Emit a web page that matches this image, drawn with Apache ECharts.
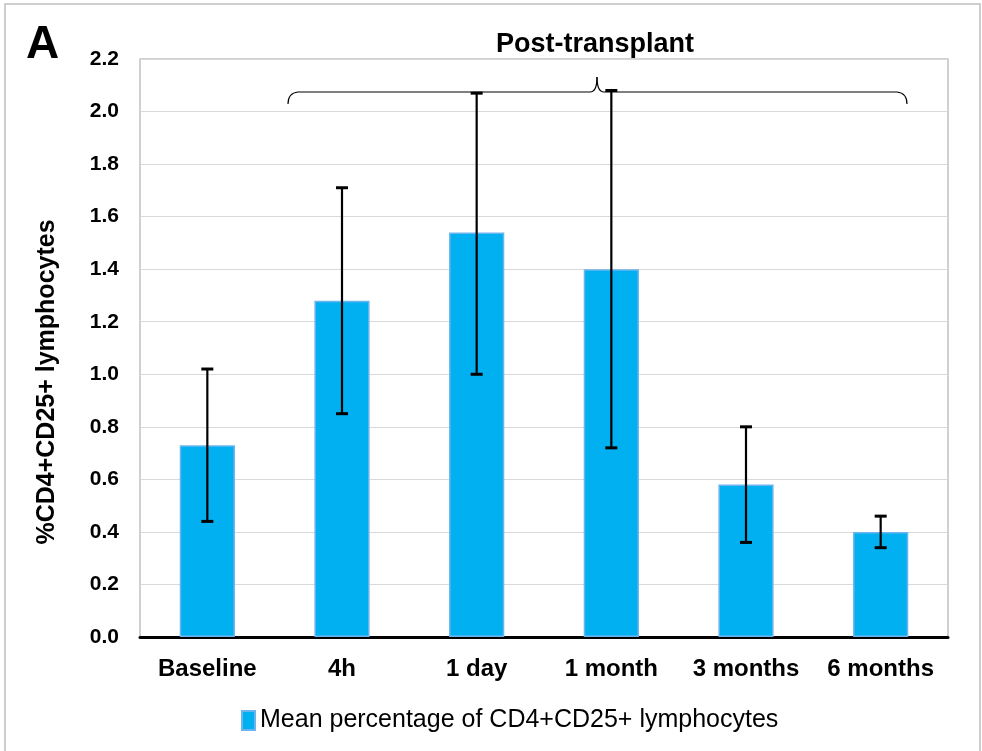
<!DOCTYPE html>
<html><head><meta charset="utf-8">
<script src="https://cdn.jsdelivr.net/npm/echarts@6/dist/echarts.min.js"></script>
<style>html,body{margin:0;padding:0;background:#fff}#c{width:982px;height:751px}</style>
</head><body><div id="c"></div>
<script>
const categories = ['Baseline', '4h', '1 day', '1 month', '3 months', '6 months'];
const means = [0.73, 1.28, 1.54, 1.40, 0.58, 0.40];
const errLow = [0.44, 0.85, 1.00, 0.72, 0.36, 0.34];
const errHigh = [1.02, 1.71, 2.07, 2.08, 0.80, 0.46];
const yTicks = ['0.0','0.2','0.4','0.6','0.8','1.0','1.2','1.4','1.6','1.8','2.0','2.2'];
const seriesName = 'Mean percentage of CD4+CD25+ lymphocytes';
const yAxisTitle = '%CD4+CD25+ lymphocytes';

const chart = echarts.init(document.getElementById('c'));
const F = 'Liberation Sans, Arial, sans-serif';
const braceStyle = { fill: 'none', stroke: '#000', lineWidth: 1.2 };
chart.setOption({
  animation: false,
  textStyle: { fontFamily: F },
  grid: { left: 140, right: 34, top: 59, bottom: 114, show: true, borderColor: '#c0c0c0', borderWidth: 1.5 },
  legend: {
    top: 703, left: 236, itemWidth: 13, itemHeight: 19, itemGap: 4,
    textStyle: { fontFamily: F, fontSize: 25, color: '#000' },
    data: [{ name: seriesName, icon: 'rect' }]
  },
  xAxis: {
    type: 'category', data: categories,
    axisLine: { lineStyle: { color: '#000', width: 3 } },
    axisTick: { show: false },
    axisLabel: { interval: 0, hideOverlap: false, fontFamily: F, fontSize: 24, fontWeight: 'bold', color: '#000', margin: 20 }
  },
  yAxis: {
    type: 'value', min: 0, max: 2.2, interval: 0.2,
    axisLine: { show: false }, axisTick: { show: false },
    axisLabel: { fontFamily: F, fontSize: 21, fontWeight: 'bold', color: '#000', margin: 21,
      formatter: (v) => yTicks[Math.round(v / 0.2)] },
    splitLine: { lineStyle: { color: '#d9d9d9', width: 1 } }
  },
  series: [
    {
      name: seriesName, type: 'bar', data: means, barWidth: '41%',
      itemStyle: { color: '#00B0F0', borderColor: '#6CB4EE', borderWidth: 1.5 }
    },
    {
      type: 'custom', silent: true,
      data: categories.map((c, i) => [i, errLow[i], errHigh[i]]),
      renderItem: function (params, api) {
        const lo = api.coord([api.value(0), api.value(1)]);
        const hi = api.coord([api.value(0), api.value(2)]);
        const w = 6;
        const st = { stroke: '#000', lineWidth: 2.2 };
        return { type: 'group', children: [
          { type: 'line', shape: { x1: lo[0], y1: lo[1], x2: hi[0], y2: hi[1] }, style: st },
          { type: 'line', shape: { x1: lo[0] - w, y1: lo[1], x2: lo[0] + w, y2: lo[1] }, style: { stroke: '#000', lineWidth: 3 } },
          { type: 'line', shape: { x1: hi[0] - w, y1: hi[1], x2: hi[0] + w, y2: hi[1] }, style: { stroke: '#000', lineWidth: 3 } }
        ]};
      },
      z: 5
    }
  ],
  graphic: [
    { type: 'rect', shape: { x: 5, y: 4, width: 975, height: 760 }, style: { fill: 'none', stroke: '#bfbfbf', lineWidth: 1.5 }, silent: true },
    { type: 'text', x: 26, y: 22, style: { text: 'A', font: 'bold 46px ' + F, fill: '#000' } },
    { type: 'text', x: 595, y: 45, style: { text: 'Post-transplant', font: 'bold 27px ' + F, fill: '#000', align: 'center', verticalAlign: 'middle' } },
    { type: 'text', x: 47, y: 382, rotation: Math.PI / 2, style: { text: yAxisTitle, font: 'bold 25px ' + F, fill: '#000', align: 'center', verticalAlign: 'middle' } },
    { type: 'bezierCurve', shape: { x1: 288, y1: 104, x2: 298, y2: 92, cpx1: 288, cpy1: 93 }, style: braceStyle },
    { type: 'line', shape: { x1: 298, y1: 92, x2: 590, y2: 92 }, style: braceStyle },
    { type: 'bezierCurve', shape: { x1: 590, y1: 92, x2: 597, y2: 77, cpx1: 597, cpy1: 92 }, style: braceStyle },
    { type: 'bezierCurve', shape: { x1: 597, y1: 77, x2: 604, y2: 92, cpx1: 597, cpy1: 92 }, style: braceStyle },
    { type: 'line', shape: { x1: 604, y1: 92, x2: 897, y2: 92 }, style: braceStyle },
    { type: 'bezierCurve', shape: { x1: 897, y1: 92, x2: 907, y2: 104, cpx1: 907, cpy1: 93 }, style: braceStyle }
  ]
});
</script></body></html>
